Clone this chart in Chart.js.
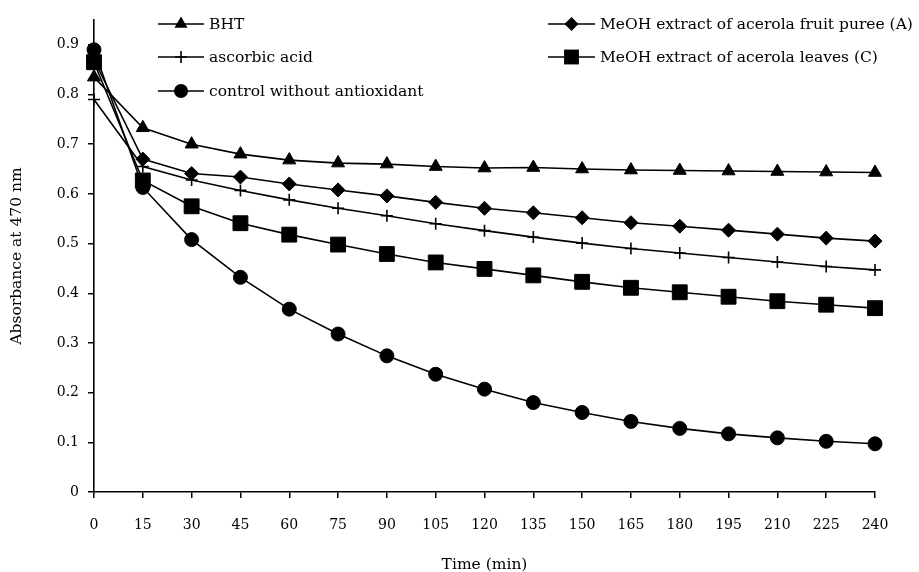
<!DOCTYPE html>
<html><head><meta charset="utf-8">
<script src="https://cdn.jsdelivr.net/npm/chart.js@4/dist/chart.umd.min.js"></script>
<style>html,body{margin:0;padding:0;background:#fff}#wrap{width:919px;height:572px;position:relative}</style>
</head><body><div id="wrap"><canvas id="c" width="919" height="572"></canvas></div>
<script>
const times = [0,15,30,45,60,75,90,105,120,135,150,165,180,195,210,225,240];
const seriesNames = ["BHT","ascorbic acid","control without antioxidant","MeOH extract of acerola fruit puree (A)","MeOH extract of acerola leaves (C)"];
const bht = [0.835,0.733,0.700,0.680,0.668,0.662,0.660,0.655,0.652,0.653,0.650,0.648,0.647,0.646,0.645,0.644,0.643];
const ascorbic = [0.790,0.655,0.628,0.607,0.588,0.571,0.556,0.540,0.526,0.513,0.501,0.490,0.481,0.472,0.463,0.454,0.447];
const control = [0.890,0.613,0.508,0.432,0.368,0.318,0.274,0.237,0.207,0.180,0.160,0.142,0.128,0.117,0.109,0.102,0.097];
const fruit = [0.870,0.670,0.641,0.634,0.620,0.608,0.596,0.583,0.571,0.562,0.552,0.542,0.535,0.527,0.519,0.511,0.505];
const leaves = [0.865,0.627,0.575,0.541,0.518,0.498,0.479,0.462,0.449,0.436,0.423,0.411,0.402,0.393,0.384,0.377,0.370];
const yTicks = [0,0.1,0.2,0.3,0.4,0.5,0.6,0.7,0.8,0.9];

const FONT = "'DejaVu Serif', serif";
const styles = [
  {data:bht, style:'triangle', r:7.5},
  {data:ascorbic, style:'cross', r:6},
  {data:control, style:'circle', r:7},
  {data:fruit, style:'rectRot', r:7},
  {data:leaves, style:'rect', r:10.5}
];
const datasets = styles.map((s,i)=>({
  label: seriesNames[i],
  data: times.map((t,k)=>({x:t,y:s.data[k]})),
  borderColor:'#000', backgroundColor:'#000', borderWidth:1.6,
  pointStyle:s.style, pointRadius:s.r, pointHoverRadius:s.r,
  pointBorderWidth: s.style==='cross'?1.6:1, tension:0, clip:false
}));

function marker(ctx, style, x, y, r){
  ctx.save(); ctx.fillStyle='#000'; ctx.strokeStyle='#000'; ctx.lineWidth=1.6;
  ctx.beginPath();
  if(style==='triangle'){ ctx.moveTo(x,y-r); ctx.lineTo(x+r*0.866,y+r*0.5); ctx.lineTo(x-r*0.866,y+r*0.5); ctx.closePath(); ctx.fill(); }
  else if(style==='circle'){ ctx.arc(x,y,r,0,Math.PI*2); ctx.fill(); }
  else if(style==='rectRot'){ ctx.moveTo(x,y-r); ctx.lineTo(x+r,y); ctx.lineTo(x,y+r); ctx.lineTo(x-r,y); ctx.closePath(); ctx.fill(); }
  else if(style==='rect'){ const s=r*Math.SQRT1_2; ctx.rect(x-s,y-s,2*s,2*s); ctx.fill(); }
  else if(style==='cross'){ ctx.moveTo(x,y-r); ctx.lineTo(x,y+r); ctx.moveTo(x-r,y); ctx.lineTo(x+r,y); ctx.stroke(); }
  ctx.restore();
}
const legendPos = [
  {x1:158,x2:204,y:24},{x1:158,x2:204,y:57},{x1:158,x2:204,y:91},
  {x1:548,x2:595,y:24},{x1:548,x2:595,y:57}
];
const legendPlugin = {
  id:'customLegend',
  afterDraw(chart){
    const ctx = chart.ctx;
    ctx.save();
    legendPos.forEach((p,i)=>{
      ctx.strokeStyle='#000'; ctx.lineWidth=1.6;
      ctx.beginPath(); ctx.moveTo(p.x1,p.y); ctx.lineTo(p.x2,p.y); ctx.stroke();
      marker(ctx, styles[i].style, (p.x1+p.x2)/2, p.y, styles[i].r);
      ctx.fillStyle='#000'; ctx.font = "15.5px "+FONT; ctx.textBaseline='middle'; ctx.textAlign='left';
      ctx.fillText(seriesNames[i], p.x2+5, p.y+1);
    });
    ctx.restore();
  }
};

new Chart(document.getElementById('c'), {
  type:'line',
  data:{datasets},
  plugins:[legendPlugin],
  options:{
    responsive:false, animation:false,
    layout:{padding:{top:20,right:44,left:0,bottom:0}},
    plugins:{legend:{display:false}, tooltip:{enabled:false}},
    scales:{
      x:{type:'linear', min:0, max:240,
        afterFit(s){ s.height = 80; },
        ticks:{stepSize:15, color:'#000', font:{family:FONT,size:14}, padding:19, maxRotation:0, autoSkip:false},
        grid:{display:true, drawOnChartArea:false, drawTicks:true, tickLength:6, color:'#000', lineWidth:1.5},
        border:{display:true, color:'#000', width:1.6},
        title:{display:true, text:'Time (min)', color:'#000', font:{family:FONT,size:15.5}, padding:{top:0,bottom:-2}}
      },
      y:{min:0, max:0.95,
        afterFit(s){ s.width = 94; },
        afterBuildTicks(s){ s.ticks = yTicks.map(v=>({value:v})); },
        ticks:{color:'#000', font:{family:FONT,size:14}, padding:9, callback:v=>String(v)},
        grid:{display:true, drawOnChartArea:false, drawTicks:true, tickLength:6, color:'#000', lineWidth:1.5},
        border:{display:true, color:'#000', width:1.6},
        title:{display:true, text:'Absorbance at 470 nm', color:'#000', font:{family:FONT,size:15.5}, padding:{top:8,bottom:0}}
      }
    }
  }
});
</script></body></html>
